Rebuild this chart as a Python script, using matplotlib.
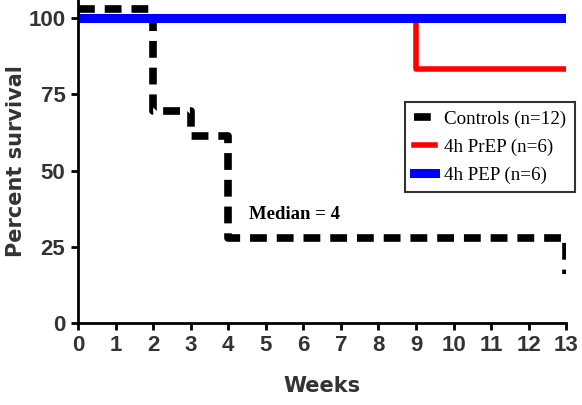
import matplotlib.pyplot as plt

# Kaplan-Meier step data
weeks_ctrl = [0, 2, 3, 4, 13]
surv_ctrl = [103, 69.5, 61.5, 28, 16]

weeks_prep = [0, 9, 13]
surv_prep = [100, 83.3, 83.3]

weeks_pep = [0, 13]
surv_pep = [100, 100]

labels = ['Controls (n=12)', '4h PrEP (n=6)', '4h PEP (n=6)']
xticks = list(range(0, 14))
yticks = [0, 25, 50, 75, 100]

fig = plt.figure(figsize=(5.82, 4.05), dpi=100)
ax = fig.add_axes([0.134, 0.203, 0.839, 0.797])

ax.step(weeks_ctrl, surv_ctrl, where='post', color='black', lw=5.5,
        linestyle=(0, (2.2, 1.3)), label=labels[0])
ax.step(weeks_prep, surv_prep, where='post', color='#ff0000', lw=4, label=labels[1])
ax.step(weeks_pep, surv_pep, where='post', color='#0000ff', lw=6.5, label=labels[2])

ax.text(4.55, 34, 'Median = 4', family='Liberation Serif', fontweight='bold', fontsize=13.5)

ax.set_xlim(0, 13)
ax.set_ylim(0, 106)
ax.set_xticks(xticks)
ax.set_yticks(yticks)
ax.tick_params(width=2, length=5, labelsize=16, pad=4)
for lab in ax.get_xticklabels() + ax.get_yticklabels():
    lab.set_fontweight('bold')
    lab.set_family(['Liberation Sans Narrow', 'Liberation Sans'])
    lab.set_color('#333333')
for s in ['top', 'right']:
    ax.spines[s].set_visible(False)
for s in ['left', 'bottom']:
    ax.spines[s].set_linewidth(2)

ax.set_xlabel('Weeks', fontsize=15, fontweight='bold', color='#333333', labelpad=14)
ax.set_ylabel('Percent survival', fontsize=15, fontweight='bold', color='#333333', labelpad=2)

leg = ax.legend(loc='upper left', bbox_to_anchor=(0.67, 0.684), borderaxespad=0,
                prop={'family': 'Liberation Serif', 'size': 13.7},
                frameon=True, fancybox=False, edgecolor='#333333',
                handlelength=1.1, handletextpad=0.5, borderpad=0.45,
                labelspacing=0.55, framealpha=1)
leg.get_frame().set_linewidth(1.5)
leg.set_clip_on(False)

fig.savefig('out.png', dpi=100)
